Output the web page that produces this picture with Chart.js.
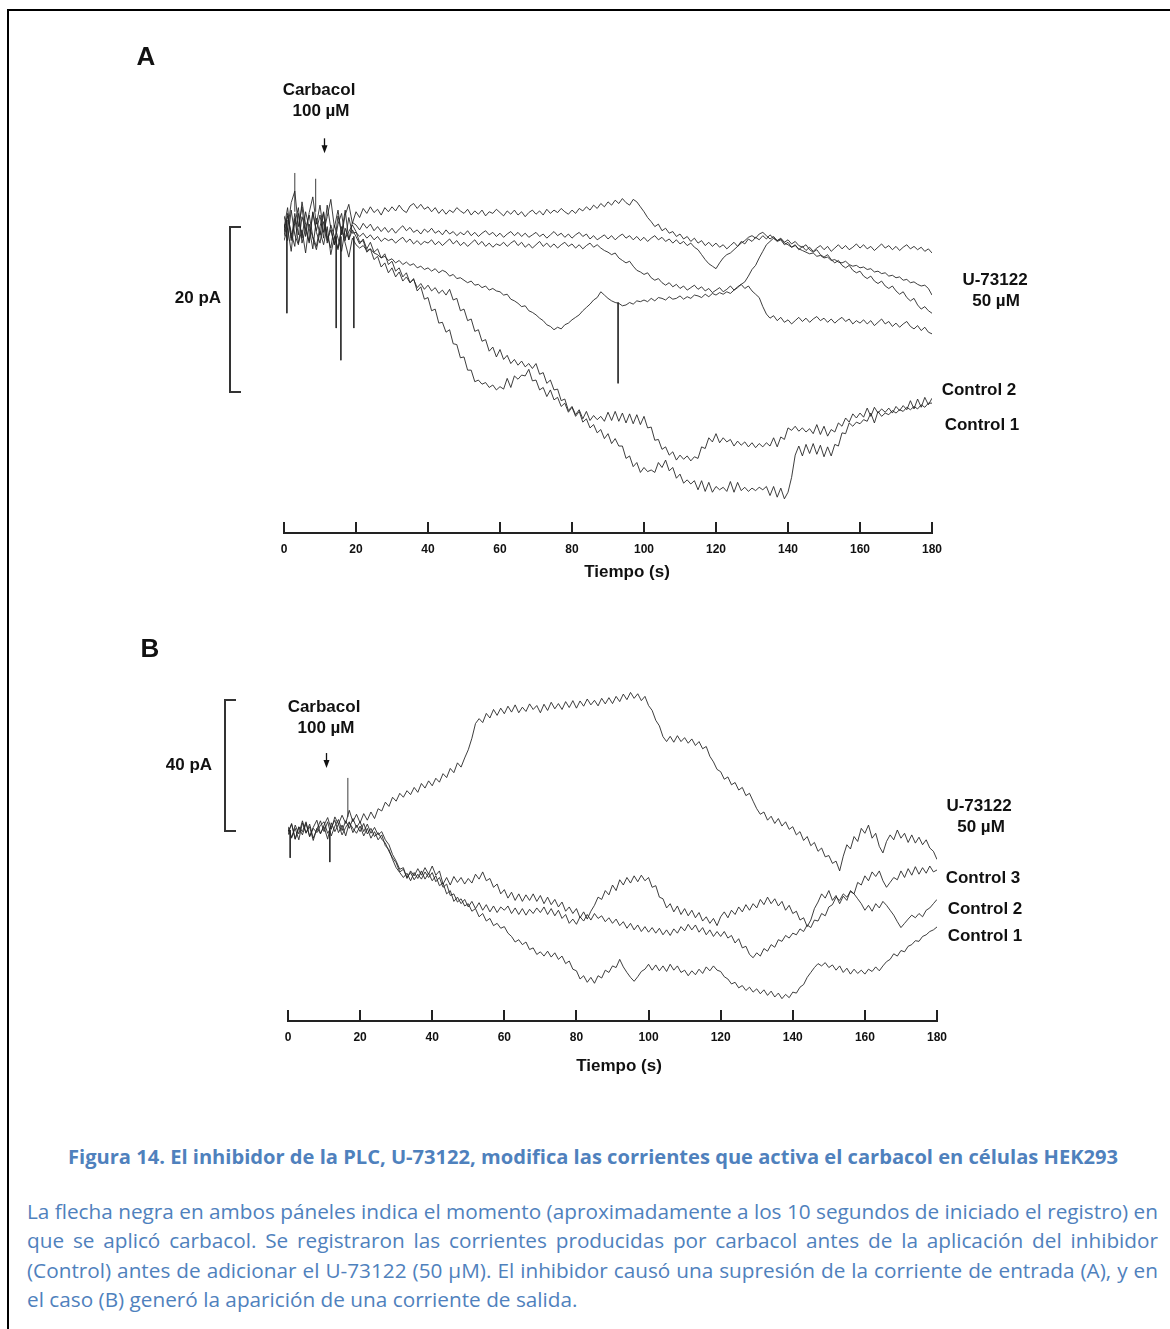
<!DOCTYPE html>
<html>
<head>
<meta charset="utf-8">
<script src="https://cdn.jsdelivr.net/npm/chart.js@4.4.1/dist/chart.umd.min.js"></script>
<style>
  body { margin: 0; background: #fff; width: 1170px; height: 1329px; position: relative; overflow: hidden;
         font-family: 'Liberation Sans', Arial, sans-serif; }
  .frame { position: absolute; left: 7px; top: 9px; width: 1300px; height: 1500px;
           border-left: 2px solid #000; border-top: 2px solid #000; }
  canvas { position: absolute; left: 0; }
  .lbl { position: absolute; font-weight: bold; font-size: 17px; color: #111; white-space: nowrap;
         line-height: 1; transform: translate(-50%, -50%); }
  .big { font-size: 26px; }
  .cap { position: absolute; color: #4f81bd; font-family: 'Open Sans', sans-serif; white-space: nowrap; }
  #capTitle { left: 68px; top: 1157px; font-size: 20px; font-weight: bold; line-height: 1;
              transform-origin: left center; transform: translateY(-50%); }
  #capText { left: 27px; top: 1197px; font-size: 20px; line-height: 29.3px; transform-origin: left top; }
  #capText div { text-align: justify; text-align-last: justify; white-space: nowrap; }
  #capText div.last { text-align: left; text-align-last: left; }
</style>
</head>
<body>
<div class="frame"></div>
<canvas id="chartA" width="1170" height="620" style="top:0px"></canvas>
<canvas id="chartB" width="1170" height="480" style="top:620px"></canvas>

<div class="lbl big" style="left:146px;top:56px">A</div>
<div class="lbl" style="left:319px;top:89px">Carbacol</div>
<div class="lbl" style="left:321px;top:110px">100 µM</div>
<div class="lbl" style="left:198px;top:297px">20 pA</div>
<div class="lbl" style="left:995px;top:279px">U-73122</div>
<div class="lbl" style="left:996px;top:300px">50 µM</div>
<div class="lbl" style="left:979px;top:389px">Control 2</div>
<div class="lbl" style="left:982px;top:424px">Control 1</div>
<div class="lbl" style="left:627px;top:571px">Tiempo (s)</div>

<div class="lbl big" style="left:150px;top:648px">B</div>
<div class="lbl" style="left:324px;top:706px">Carbacol</div>
<div class="lbl" style="left:326px;top:727px">100 µM</div>
<div class="lbl" style="left:189px;top:764px">40 pA</div>
<div class="lbl" style="left:979px;top:805px">U-73122</div>
<div class="lbl" style="left:981px;top:826px">50 µM</div>
<div class="lbl" style="left:983px;top:877px">Control 3</div>
<div class="lbl" style="left:985px;top:908px">Control 2</div>
<div class="lbl" style="left:985px;top:935px">Control 1</div>
<div class="lbl" style="left:619px;top:1065px">Tiempo (s)</div>

<div class="cap" id="capTitle">Figura 14. El inhibidor de la PLC, U-73122, modifica las corrientes que activa el carbacol en células HEK293</div>
<div class="cap" id="capText">
  <div><span>La flecha negra en ambos páneles indica el momento (aproximadamente a los 10 segundos de iniciado el registro) en</span></div>
  <div><span>que se aplicó carbacol. Se registraron las corrientes producidas por carbacol antes de la aplicación del inhibidor</span></div>
  <div><span>(Control) antes de adicionar el U-73122 (50 µM). El inhibidor causó una supresión de la corriente de entrada (A), y en</span></div>
  <div class="last"><span>el caso (B) generó la aparición de una corriente de salida.</span></div>
</div>

<script>
// sample times, one per second (s)
const sampleTimes = [];
for (let t = 0; t <= 180; t++) sampleTimes.push(t);
const tickStep = 20;

// Panel A, current in pA (0 = baseline before carbachol)
const u1A = [
  0.5, -1.2, 2.1, 3.5, -0.8, 1.6, -2.0, 0.9, 2.8, -0.5,
  1.8, -1.5, 0.4, 2.5, -0.9, 1.2, -1.8, 0.6, 1.9, -0.4,
  1.0, 0.3, 1.4, 0.8, 1.6, 0.9, 1.3, 0.6, 1.5, 1.0,
  1.6, 1.1, 1.8, 1.2, 0.9, 1.7, 2.0, 1.4, 1.9, 1.3,
  1.6, 1.0, 1.5, 0.8, 1.3, 0.7, 1.2, 0.9, 1.5, 1.1,
  0.8, 1.3, 0.6, 1.1, 0.7, 1.2, 0.5, 1.0, 0.8, 1.3,
  0.9, 0.5, 1.1, 0.7, 1.2, 0.6, 1.0, 0.4, 0.9, 1.2,
  0.7, 1.1, 0.6, 1.3, 0.8, 1.2, 0.9, 1.4, 1.0, 0.7,
  1.2, 0.8, 1.4, 1.1, 1.6, 1.2, 1.8, 1.4, 2.0, 1.6,
  2.2, 1.8, 2.4, 2.0, 2.6, 2.1, 1.8, 2.5, 2.2, 1.6,
  1.0, 0.3, -0.2, -0.8, -0.5, -1.3, -1.0, -1.6, -1.4, -2.0,
  -1.7, -2.3, -2.0, -2.6, -2.2, -2.8, -2.5, -3.1, -2.7, -3.2,
  -2.8, -3.3, -3.0, -3.5, -3.1, -2.7, -3.2, -2.6, -2.9, -2.3,
  -2.6, -2.1, -2.4, -1.9, -2.3, -1.8, -2.2, -2.6, -2.4, -3.0,
  -2.7, -3.3, -3.0, -3.6, -3.2, -3.7, -3.3, -3.8, -3.4, -3.1,
  -3.6, -3.2, -3.8, -3.4, -3.0, -3.5, -3.1, -3.6, -3.3, -2.9,
  -3.4, -3.0, -3.5, -3.2, -3.7, -3.3, -2.9, -3.4, -3.1, -3.6,
  -3.2, -3.7, -3.3, -3.0, -3.5, -3.2, -3.6, -3.3, -3.8, -3.5, -4.0
];
const u2A = [
  -1.0, 1.5, -2.5, 0.8, -1.8, 2.2, -0.5, -2.8, 1.0, -1.3,
  0.6, -2.2, 1.8, -1.0, -3.0, 0.5, -1.6, 1.2, -2.4, -0.3,
  -0.6, -1.2, -0.4, -1.0, -0.5, -1.3, -0.8, -1.4, -0.9, -1.5,
  -1.0, -1.6, -1.1, -0.7, -1.3, -0.9, -1.5, -1.2, -1.7, -1.1,
  -1.5, -1.0, -1.6, -1.3, -1.8, -1.2, -1.7, -1.4, -1.9, -1.5,
  -1.8, -1.3, -1.9, -1.5, -2.0, -1.6, -1.3, -1.8, -1.5, -2.0,
  -1.6, -2.1, -1.7, -1.4, -1.9, -1.5, -2.0, -1.6, -2.1, -1.8,
  -1.5, -2.0, -1.7, -2.2, -1.8, -1.4, -1.9, -1.6, -2.1, -1.7,
  -2.2, -1.8, -1.5, -2.0, -1.7, -2.3, -1.9, -2.4, -2.1, -1.8,
  -2.3, -1.9, -2.4, -2.0, -1.7, -2.2, -1.9, -2.4, -2.0, -2.5,
  -2.1, -2.6, -2.2, -1.9, -2.4, -2.1, -2.6, -2.3, -2.8, -2.4,
  -2.9, -2.6, -3.1, -2.8, -3.3, -3.6, -4.2, -4.8, -5.3, -5.6,
  -5.9, -5.2, -4.6, -4.2, -4.0, -3.6, -3.2, -2.8, -2.5, -2.1,
  -1.9, -2.2, -1.7, -1.5, -1.9, -2.3, -2.0, -2.5, -2.2, -2.7,
  -2.4, -2.9, -2.6, -3.1, -3.3, -3.0, -3.6, -3.9, -3.6, -4.2,
  -4.5, -4.2, -4.8, -5.2, -4.9, -5.5, -5.8, -5.5, -6.1, -6.4,
  -6.2, -6.8, -7.1, -6.8, -7.4, -7.7, -7.4, -8.0, -8.3, -8.0,
  -8.6, -9.0, -8.7, -9.4, -9.8, -9.5, -10.3, -10.8, -10.5, -11.0, -11.3
];
const u3A = [
  -2.0, 0.5, -1.5, -3.2, 0.8, -2.2, 1.0, -1.0, -3.5, 0.2,
  -1.8, 0.9, -2.8, -0.6, -2.0, -3.6, -0.8, -2.5, 0.3, -1.6,
  -1.5, -2.0, -1.6, -2.2, -1.8, -2.4, -2.0, -2.6, -2.2, -2.5,
  -2.3, -2.8, -2.4, -2.1, -2.7, -2.3, -2.9, -2.5, -3.0, -2.6,
  -2.8, -2.4, -3.0, -2.6, -3.1, -2.7, -2.3, -2.9, -2.5, -3.1,
  -2.7, -3.2, -2.8, -2.4, -3.0, -2.6, -3.2, -2.8, -3.3, -2.9,
  -3.1, -2.7, -3.2, -2.8, -2.5, -3.1, -2.7, -3.3, -2.9, -3.4,
  -3.0, -2.6, -3.2, -2.8, -3.3, -2.9, -3.4, -3.0, -2.7, -3.2,
  -2.9, -3.4, -3.0, -3.5, -3.1, -2.8, -3.3, -3.0, -3.4, -3.7,
  -3.9, -4.2, -4.0, -4.6, -4.9, -5.2, -5.0, -5.6, -6.1, -6.3,
  -6.6, -6.4, -7.0, -7.3, -7.1, -7.6, -7.9, -7.6, -8.1, -7.8,
  -8.3, -8.0, -8.5, -8.2, -7.9, -8.4, -8.1, -8.6, -8.3, -8.8,
  -8.5, -8.2, -8.7, -8.4, -8.0, -8.5, -8.1, -7.8, -8.3, -8.0,
  -8.6, -9.0, -9.4, -10.5, -11.4, -11.9, -11.6, -12.2, -11.8, -12.4,
  -12.1, -12.6, -12.2, -11.8, -12.3, -11.9, -12.4, -12.0, -11.7, -12.2,
  -11.9, -12.4, -12.0, -12.5, -12.1, -11.8, -12.3, -12.0, -12.6, -12.2,
  -12.5, -12.1, -12.6, -12.2, -12.8, -12.4, -12.0, -12.6, -12.3, -12.9,
  -12.5, -13.0, -12.6, -12.3, -12.9, -13.2, -12.8, -13.4, -13.0, -13.6, -13.8
];
const u4A = [
  -2.5, -1.0, -3.8, 0.2, -2.8, -1.2, -4.0, -0.5, -2.2, -3.6,
  -1.4, -3.0, -0.8, -4.2, -2.0, -3.4, -1.2, -2.8, -4.5, -2.2,
  -3.0, -3.4, -3.1, -3.7, -3.5, -4.0, -4.2, -4.6, -4.4, -4.9,
  -4.7, -5.2, -4.9, -5.4, -5.1, -5.5, -5.3, -5.8, -5.6, -6.0,
  -5.8, -6.2, -5.9, -6.4, -6.1, -6.3, -6.8, -6.6, -7.1, -7.0,
  -7.3, -7.6, -7.4, -7.9, -7.8, -8.2, -8.0, -8.5, -8.3, -8.6,
  -8.7, -9.1, -9.0, -9.6, -9.8, -10.1, -10.5, -10.4, -11.0, -11.2,
  -11.5, -11.9, -12.2, -12.7, -12.9, -13.3, -13.0, -13.2, -12.7, -12.5,
  -12.1, -11.8, -11.5, -11.0, -10.6, -10.2, -9.7, -9.4, -8.7, -9.1,
  -9.5, -9.8, -10.0, -10.1, -10.4, -10.3, -10.0, -10.2, -9.8, -9.9,
  -9.7, -9.9, -9.5, -9.8, -9.4, -9.5, -9.7, -9.3, -9.6, -9.5,
  -9.2, -9.6, -9.3, -9.5, -9.1, -9.2, -9.4, -9.0, -9.3, -8.9,
  -9.1, -8.8, -9.0, -8.7, -8.9, -8.5, -8.2, -7.8, -7.5, -6.8,
  -6.0, -5.5, -4.6, -3.8, -3.0, -2.6, -2.2, -2.5, -2.3, -2.8,
  -3.0, -3.3, -3.1, -3.5, -3.7, -3.9, -4.1, -4.0, -4.4, -4.3,
  -4.6, -4.5, -4.9, -4.8, -5.1, -5.2, -5.0, -5.4, -5.6, -5.5,
  -5.8, -5.7, -6.0, -5.9, -6.3, -6.2, -6.5, -6.4, -6.8, -6.7,
  -7.0, -6.9, -7.3, -7.2, -7.6, -7.5, -7.8, -8.0, -7.9, -8.3, -9.1
];
const ctrl1A = [
  -0.5, -2.5, 1.2, -1.8, -3.0, 0.4, -1.2, -2.6, 0.9, -1.5,
  -2.8, -0.2, -1.9, -3.4, -0.6, -2.2, -3.8, -1.0, -2.4, -1.2,
  -2.0, -2.9, -2.3, -3.5, -2.7, -3.9, -3.5, -4.6, -4.1, -5.4,
  -5.0, -6.2, -5.8, -6.9, -6.4, -7.6, -7.1, -8.6, -8.1, -9.6,
  -9.4, -11.0, -10.8, -12.5, -12.4, -13.6, -13.3, -15.0, -15.1, -16.7,
  -16.6, -18.2, -18.2, -19.6, -19.4, -19.9, -19.7, -20.3, -20.0, -20.6,
  -20.2, -20.5, -19.2, -20.3, -18.9, -19.3, -18.8, -18.9, -18.1, -19.5,
  -19.4, -20.6, -20.3, -21.4, -20.6, -21.8, -21.5, -22.6, -22.2, -23.3,
  -22.7, -23.8, -23.2, -24.5, -24.1, -25.2, -24.8, -25.8, -25.4, -26.5,
  -25.9, -27.1, -26.5, -27.4, -27.4, -28.9, -28.6, -29.9, -29.4, -30.6,
  -30.0, -30.5, -30.3, -30.6, -29.4, -30.0, -29.1, -30.4, -30.0, -31.3,
  -30.8, -31.9, -31.5, -32.0, -31.6, -32.7, -31.6, -32.9, -31.8, -33.0,
  -32.3, -32.7, -32.4, -32.9, -31.7, -33.0, -31.8, -32.8, -32.4, -32.9,
  -32.5, -32.8, -32.4, -32.7, -32.3, -33.4, -32.3, -33.6, -32.5, -33.8,
  -33.0, -31.2, -28.5, -27.4, -28.6, -27.2, -28.3, -27.1, -28.4, -27.3,
  -28.7, -27.5, -28.6, -27.2, -27.4, -25.8, -25.9, -24.6, -25.0, -24.5,
  -24.7, -24.2, -24.4, -23.4, -24.6, -23.2, -23.8, -23.4, -23.6, -23.1,
  -23.4, -23.0, -23.2, -22.7, -23.0, -22.6, -22.9, -22.4, -22.7, -22.2, -22.2
];
const ctrl2A = [
  -1.5, 0.8, -2.2, -0.4, 1.5, -2.8, -1.0, 0.6, -2.0, -3.2,
  -0.8, 1.0, -2.5, -1.2, -3.0, -0.5, 0.8, -2.2, -1.4, -0.6,
  -1.4, -2.7, -2.5, -3.9, -3.5, -4.8, -4.4, -5.7, -5.2, -6.4,
  -5.8, -6.9, -6.3, -7.4, -6.9, -7.6, -7.2, -8.2, -7.7, -8.4,
  -7.9, -8.6, -8.2, -8.9, -8.5, -9.1, -8.4, -9.7, -9.5, -11.0,
  -10.8, -12.2, -12.0, -13.5, -13.3, -14.7, -14.5, -15.9, -15.4, -16.6,
  -15.7, -16.9, -16.4, -17.4, -16.9, -17.6, -17.1, -17.8, -17.4, -18.0,
  -17.4, -18.7, -18.5, -19.8, -19.4, -20.6, -20.5, -21.9, -21.7, -23.1,
  -22.6, -23.6, -23.0, -24.1, -23.2, -24.3, -23.7, -24.2, -23.8, -24.4,
  -23.3, -24.3, -23.2, -24.4, -23.4, -24.6, -23.5, -24.7, -23.6, -24.8,
  -23.8, -25.2, -25.1, -26.7, -26.6, -27.8, -27.5, -28.5, -28.1, -29.1,
  -28.5, -29.0, -28.6, -29.2, -28.7, -28.9, -27.5, -27.7, -26.4, -26.9,
  -25.9, -27.0, -26.4, -26.9, -26.6, -27.4, -26.8, -27.3, -26.9, -27.5,
  -27.0, -27.6, -27.1, -27.5, -27.0, -27.4, -26.4, -27.5, -26.3, -26.6,
  -25.2, -25.5, -25.0, -25.6, -25.2, -25.7, -25.3, -25.9, -24.8, -26.0,
  -25.0, -26.2, -25.4, -25.7, -24.6, -25.0, -24.0, -24.5, -23.5, -24.0,
  -23.4, -23.9, -22.8, -23.8, -22.7, -23.4, -22.9, -23.3, -22.8, -23.4,
  -22.6, -23.1, -22.5, -23.0, -21.9, -22.9, -21.7, -22.7, -21.5, -22.4, -21.6
];
// fast spikes in panel A: time (s), level before (pA), tip (pA)
const spikeTimesA = [0.8, 3.0, 8.8, 14.5, 15.8, 19.4, 92.8];
const spikeFromA  = [0, 1, 1, -2, -2, -2, -10];
const spikeTipA   = [-11.3, 5.7, 5.0, -13.1, -17.0, -13.1, -19.8];

// Panel B, current in pA
const uB = [
  -1.5, 2.0, -2.8, 1.0, -0.5, 2.5, -2.0, 0.8, 3.0, -1.2,
  1.5, 3.8, 0.2, 4.0, 1.8, 4.5, 2.0, 6.0, 2.5, 4.8,
  2.2, 5.0, 3.0, 5.5, 3.5, 6.5, 5.8, 8.5, 7.2, 10.0,
  8.8, 11.2, 10.0, 12.0, 10.8, 13.0, 11.5, 14.2, 12.8, 15.0,
  13.5, 15.8, 14.6, 17.2, 16.0, 18.8, 17.5, 20.5, 19.2, 22.0,
  24.5, 28.0, 32.5, 34.0, 32.8, 35.6, 34.2, 36.8, 35.0, 37.2,
  35.5, 37.8, 36.0, 38.2, 35.8, 37.5, 36.2, 38.5, 36.8, 38.0,
  35.8, 38.4, 36.5, 39.0, 37.0, 38.6, 36.8, 39.2, 37.4, 39.5,
  37.2, 39.4, 37.8, 40.0, 38.2, 39.6, 37.9, 40.2, 38.5, 40.4,
  38.6, 40.8, 39.2, 41.5, 39.8, 42.0, 40.2, 41.6, 39.5, 40.8,
  38.0, 36.5, 33.5, 31.8, 28.5, 27.0, 28.6, 26.8, 28.8, 27.0,
  28.2, 26.5, 27.8, 25.8, 27.0, 24.8, 25.5, 22.5, 20.8, 18.5,
  17.8, 15.5, 16.2, 13.8, 14.5, 12.2, 13.0, 10.5, 11.2, 8.8,
  6.5, 4.8, 5.5, 3.0, 4.2, 2.0, 3.5, 1.2, 2.5, 0.2,
  1.0, -1.5, -0.5, -3.2, -2.0, -4.8, -3.8, -6.5, -5.5, -8.2,
  -7.8, -10.2, -9.5, -12.5, -8.0, -4.5, -5.8, -2.0, -3.5, 0.5,
  -1.0, 1.5, -2.5, -1.0, -5.0, -7.0, -3.5, -1.5, -3.0, 0.0,
  -2.5, -1.0, -3.8, -1.5, -4.0, -2.2, -4.5, -3.0, -5.5, -6.5, -9.0
];
const ctrl3B = [
  1.0, -2.2, 0.5, -3.0, 2.2, -1.0, 1.8, -2.5, 0.2, 2.8,
  -0.5, 2.5, -1.8, 1.2, 3.2, -0.2, 2.8, 0.5, 3.5, 0.8,
  2.5, -0.5, 1.8, -1.0, 0.8, -1.5, -0.5, -3.0, -4.5, -7.5,
  -9.5, -12.0, -11.5, -14.8, -12.5, -14.0, -11.8, -13.8, -11.5, -13.5,
  -11.0, -13.8, -12.5, -16.5, -14.5, -16.8, -14.2, -16.0, -14.5, -16.5,
  -14.8, -16.2, -13.5, -15.0, -12.8, -15.5, -14.8, -17.5, -16.5, -19.5,
  -18.2, -20.8, -19.0, -21.5, -19.5, -21.8, -19.8, -21.5, -19.5, -21.8,
  -20.0, -22.5, -20.5, -22.8, -21.2, -23.5, -22.0, -24.8, -23.5, -25.5,
  -24.0, -26.8, -25.0, -27.2, -24.8, -23.0, -20.5, -21.2, -18.5, -19.8,
  -16.8, -18.5, -15.2, -16.8, -14.5, -16.2, -14.0, -15.8, -13.8, -15.5,
  -14.5, -17.5, -17.0, -20.5, -21.0, -23.8, -22.5, -25.0, -23.2, -25.8,
  -24.0, -26.2, -24.5, -26.8, -25.2, -27.8, -26.5, -28.5, -27.0, -29.2,
  -26.5, -25.0, -26.8, -24.5, -25.8, -23.5, -25.0, -22.8, -24.5, -22.5,
  -23.8, -21.2, -22.8, -20.5, -22.5, -21.0, -23.2, -21.8, -24.5, -23.0,
  -25.5, -24.8, -27.5, -26.8, -29.5, -27.5, -24.0, -22.0, -19.5, -20.8,
  -18.5, -21.5, -20.0, -22.5, -20.2, -21.5, -18.5, -19.5, -16.0, -16.8,
  -14.0, -15.5, -12.8, -14.2, -12.5, -15.5, -17.5, -16.0, -14.5, -15.2,
  -12.5, -14.5, -11.8, -13.8, -11.2, -13.5, -11.5, -13.2, -11.0, -12.8, -12.2
];
const ctrl2B = [
  -0.5, 1.8, -2.8, 0.8, -1.5, 2.0, -2.0, 0.5, -0.8, 1.5,
  2.5, -1.0, 0.8, 3.0, -0.8, 1.5, -1.8, 2.2, 0.5, -1.0,
  1.2, -1.8, 0.5, -2.5, -0.5, -3.0, -1.5, -4.8, -6.0, -9.0,
  -11.5, -13.0, -14.5, -13.2, -15.5, -13.0, -14.8, -12.5, -15.0, -13.2,
  -15.5, -14.0, -17.0, -16.2, -19.5, -18.5, -21.8, -20.5, -22.5, -21.2,
  -23.5, -21.8, -24.0, -22.2, -24.5, -22.8, -25.0, -23.2, -25.2, -23.5,
  -24.5, -23.2, -25.5, -23.8, -25.8, -24.0, -26.0, -24.2, -25.5, -23.8,
  -25.2, -23.5, -25.8, -24.0, -26.2, -24.5, -27.0, -25.8, -28.5, -27.2,
  -28.8, -26.5, -27.8, -25.8, -27.5, -25.5, -27.0, -26.2, -28.0, -26.8,
  -28.5, -27.2, -29.2, -28.0, -30.0, -28.5, -30.5, -29.0, -31.0, -29.5,
  -31.2, -29.8, -31.5, -30.0, -32.0, -30.5, -32.2, -30.2, -31.5, -29.5,
  -30.8, -28.8, -30.5, -29.0, -31.2, -29.8, -32.0, -30.5, -32.5, -31.0,
  -32.5, -31.0, -33.0, -32.2, -34.5, -33.2, -36.0, -35.5, -38.0, -39.0,
  -37.5, -38.5, -36.2, -37.0, -35.0, -35.8, -33.5, -34.0, -32.2, -33.0,
  -31.5, -32.0, -30.2, -31.0, -29.0, -29.8, -27.5, -27.8, -25.5, -26.2,
  -23.5, -22.8, -20.5, -21.5, -19.5, -20.5, -18.8, -19.5, -21.0, -22.5,
  -24.5, -23.0, -24.8, -22.5, -23.8, -21.8, -23.0, -24.5, -26.0, -28.0,
  -29.8, -28.5, -27.2, -26.0, -26.8, -25.5, -26.5, -24.5, -23.8, -22.5, -21.2
];
const ctrl1B = [
  0.2, -2.5, 1.5, -1.2, 2.8, -0.8, 1.0, -3.2, 0.5, -1.0,
  1.0, -2.8, 2.2, -0.5, 1.8, -1.5, 0.8, 2.5, -0.8, 1.5,
  -0.5, 2.0, -1.2, 0.5, -2.0, -0.8, -2.8, -4.0, -6.5, -8.5,
  -10.0, -12.8, -12.0, -14.5, -13.0, -15.2, -13.5, -15.0, -12.8, -14.5,
  -13.0, -15.8, -14.5, -17.5, -16.5, -20.0, -19.5, -22.0, -21.0, -23.2,
  -22.5, -24.8, -24.0, -26.5, -25.5, -27.8, -27.0, -29.2, -28.5, -30.0,
  -29.5, -31.5, -32.5, -34.2, -33.5, -35.0, -34.2, -36.5, -36.0, -38.0,
  -37.2, -38.5, -37.0, -38.8, -37.5, -39.5, -38.5, -40.8, -40.0, -42.5,
  -43.0, -45.5, -44.5, -46.5, -45.0, -46.8, -44.5, -45.2, -42.8, -43.5,
  -41.5, -42.0, -39.5, -41.8, -43.5, -45.0, -46.2, -44.8, -43.2, -42.5,
  -41.0, -42.8, -41.2, -43.0, -41.5, -43.2, -41.0, -42.8, -41.5, -43.5,
  -42.8, -44.5, -43.0, -44.2, -42.5, -43.8, -41.8, -43.0, -41.5, -42.8,
  -43.2, -44.8, -45.5, -47.0, -46.5, -48.2, -47.5, -49.0, -48.0, -49.5,
  -48.5, -50.0, -48.8, -50.5, -49.2, -51.0, -49.8, -51.5, -50.2, -51.2,
  -49.5, -49.8, -48.0, -47.2, -45.0, -43.5, -42.0, -40.8, -41.5, -40.5,
  -42.0, -41.2, -42.8, -41.5, -43.5, -42.2, -44.0, -42.5, -43.8, -42.8,
  -44.0, -42.5, -43.2, -41.8, -43.0, -41.5, -40.2, -39.5, -37.8, -38.5,
  -36.8, -37.2, -35.5, -35.0, -33.8, -34.0, -32.5, -32.0, -31.0, -30.5, -29.6
];
const spikeTimesB = [0.6, 11.6, 16.6];
const spikeFromB  = [0, 0, 4];
const spikeTipB   = [-8.5, -9.8, 15.9];

// carbachol arrow and calibration bars (time in s, current in pA)
const arrowA = { time: 11, from: 9.9, to: 8.1 };
const arrowB = { time: 10.5, from: 23.5, to: 18.9 };
const barA = { time: -15, top: -0.85, size: 20 };
const barB = { time: -17.5, top: 39.7, size: 40 };

const traceColor = 'rgba(35,35,35,0.88)';

function toPoints(values) {
  return values.map((v, i) => ({ x: sampleTimes[i], y: v }));
}
function spikePoints(times, from, tip) {
  const pts = [];
  times.forEach((t, i) => {
    pts.push({ x: t, y: from[i] }, { x: t, y: tip[i] }, { x: t, y: null });
  });
  return pts;
}

const marksPlugin = {
  id: 'marks',
  afterDraw(chart, args, o) {
    const { ctx, chartArea, scales: { x, y } } = chart;
    ctx.save();
    ctx.strokeStyle = '#222';
    ctx.fillStyle = '#222';
    ctx.lineWidth = 2;
    x.ticks.forEach(t => {
      const px = Math.round(x.getPixelForValue(t.value));
      ctx.beginPath();
      ctx.moveTo(px, chartArea.bottom);
      ctx.lineTo(px, chartArea.bottom - 11);
      ctx.stroke();
    });
    // calibration bracket
    const bx = Math.round(x.getPixelForValue(o.bar.time));
    const bx2 = bx + 11;
    const by1 = Math.round(y.getPixelForValue(o.bar.top));
    const by2 = Math.round(y.getPixelForValue(o.bar.top - o.bar.size));
    ctx.strokeStyle = '#333';
    ctx.beginPath();
    ctx.moveTo(bx2, by1); ctx.lineTo(bx, by1); ctx.lineTo(bx, by2); ctx.lineTo(bx2, by2);
    ctx.stroke();
    // arrow
    const ax = Math.round(x.getPixelForValue(o.arrow.time)) + 0.5;
    const ay1 = y.getPixelForValue(o.arrow.from);
    const ay2 = y.getPixelForValue(o.arrow.to);
    ctx.strokeStyle = '#111';
    ctx.fillStyle = '#111';
    ctx.lineWidth = 1.3;
    ctx.beginPath(); ctx.moveTo(ax, ay1); ctx.lineTo(ax, ay2 - 5); ctx.stroke();
    ctx.beginPath();
    ctx.moveTo(ax - 3, ay2 - 8); ctx.lineTo(ax + 3, ay2 - 8); ctx.lineTo(ax, ay2);
    ctx.closePath(); ctx.fill();
    ctx.restore();
  }
};

function makePanel(id, series, spikes, yMin, yMax, padding, marks) {
  const datasets = series.map(s => ({ data: toPoints(s) }));
  datasets.push({ data: spikes });
  return new Chart(document.getElementById(id), {
    type: 'line',
    data: { datasets },
    options: {
      responsive: false,
      animation: false,
      layout: { padding },
      plugins: { legend: { display: false }, tooltip: { enabled: false }, marks },
      elements: {
        point: { radius: 0 },
        line: { borderWidth: 1, borderColor: traceColor, tension: 0, fill: false }
      },
      scales: {
        x: {
          type: 'linear', min: 0, max: 180,
          afterFit: s => { s.height = 60; },
          ticks: { stepSize: tickStep, padding: 1, color: '#111', maxRotation: 0,
                   font: { family: 'Liberation Sans, Arial, sans-serif', weight: 'bold', size: 12 } },
          grid: { display: false },
          border: { display: true, color: '#222', width: 2 }
        },
        y: { display: false, min: yMin, max: yMax }
      }
    },
    plugins: [marksPlugin]
  });
}

makePanel('chartA', [u1A, u2A, u3A, u4A, ctrl1A, ctrl2A],
  spikePoints(spikeTimesA, spikeFromA, spikeTipA),
  -37.94, 8.485, { left: 284, right: 238, top: 150, bottom: 27 },
  { arrow: arrowA, bar: barA });

makePanel('chartB', [uB, ctrl3B, ctrl2B, ctrl1B],
  spikePoints(spikeTimesB, spikeFromB, spikeTipB),
  -58.32, 45.80, { left: 288, right: 233, top: 60, bottom: 19 },
  { arrow: arrowB, bar: barB });

// fit the caption to the reference line widths
const title = document.getElementById('capTitle');
const tw = title.getBoundingClientRect().width;
title.style.transform = 'translateY(-50%) scaleX(' + (1050 / tw) + ')';
const capText = document.getElementById('capText');
const lineTargets = [1131, 1131, 1131, 554];
let sx = Infinity;
capText.querySelectorAll('span').forEach((s, i) => {
  sx = Math.min(sx, lineTargets[i] / s.getBoundingClientRect().width);
});
capText.style.width = (1131 / sx) + 'px';
capText.style.transform = 'scaleX(' + sx + ')';
</script>
</body>
</html>
